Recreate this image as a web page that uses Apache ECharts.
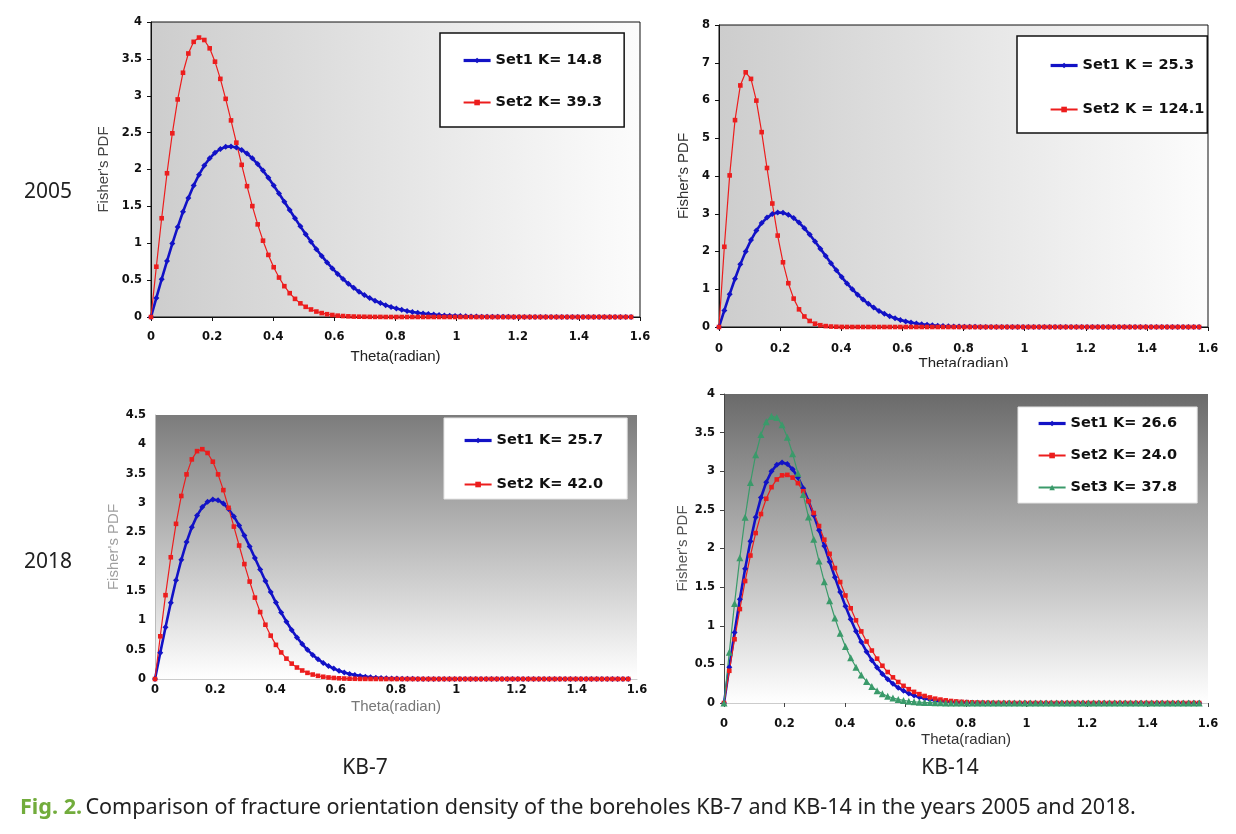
<!DOCTYPE html>
<html><head><meta charset="utf-8">
<script src="https://cdn.jsdelivr.net/npm/echarts@6/dist/echarts.min.js"></script>
<style>html,body{margin:0;padding:0;background:#fff}#c{width:1236px;height:834px}</style>
</head><body><div id="c"></div><script>
// theta in radians, 1-degree steps 0..90
const theta = [
0, 0.0175, 0.0349, 0.0524, 0.0698, 0.0873, 0.1047, 0.1222, 0.1396, 0.1571,
0.1745, 0.1920, 0.2094, 0.2269, 0.2443, 0.2618, 0.2793, 0.2967, 0.3142, 0.3316,
0.3491, 0.3665, 0.3840, 0.4014, 0.4189, 0.4363, 0.4538, 0.4712, 0.4887, 0.5061,
0.5236, 0.5411, 0.5585, 0.5760, 0.5934, 0.6109, 0.6283, 0.6458, 0.6632, 0.6807,
0.6981, 0.7156, 0.7330, 0.7505, 0.7679, 0.7854, 0.8029, 0.8203, 0.8378, 0.8552,
0.8727, 0.8901, 0.9076, 0.9250, 0.9425, 0.9599, 0.9774, 0.9948, 1.0123, 1.0297,
1.0472, 1.0647, 1.0821, 1.0996, 1.1170, 1.1345, 1.1519, 1.1694, 1.1868, 1.2043,
1.2217, 1.2392, 1.2566, 1.2741, 1.2915, 1.3090, 1.3265, 1.3439, 1.3614, 1.3788,
1.3963, 1.4137, 1.4312, 1.4486, 1.4661, 1.4835, 1.5010, 1.5184, 1.5359, 1.5533,
1.5708];

// 2005 KB-7
const kb7_2005_set1 = [ // K = 14.8
0, 0.258, 0.512, 0.759, 0.996, 1.219, 1.427, 1.615, 1.783, 1.930,
2.053, 2.152, 2.227, 2.278, 2.307, 2.313, 2.299, 2.266, 2.217, 2.151,
2.073, 1.985, 1.887, 1.783, 1.674, 1.563, 1.451, 1.339, 1.229, 1.122,
1.019, 0.920, 0.828, 0.740, 0.659, 0.584, 0.515, 0.452, 0.395, 0.344,
0.298, 0.257, 0.221, 0.189, 0.161, 0.137, 0.116, 0.098, 0.082, 0.069,
0.057, 0.048, 0.040, 0.033, 0.027, 0.022, 0.018, 0.015, 0.012, 0.010,
0.008, 0.006, 0.005, 0.004, 0.003, 0.003, 0.002, 0.002, 0.001, 0.001,
0.001, 0, 0, 0, 0, 0, 0, 0, 0, 0,
0, 0, 0, 0, 0, 0, 0, 0, 0, 0,
0];
const kb7_2005_set2 = [ // K = 39.3
0, 0.682, 1.339, 1.949, 2.491, 2.950, 3.312, 3.573, 3.731, 3.789,
3.756, 3.643, 3.462, 3.229, 2.958, 2.666, 2.364, 2.063, 1.774, 1.504,
1.256, 1.035, 0.842, 0.675, 0.535, 0.418, 0.323, 0.246, 0.185, 0.138,
0.102, 0.074, 0.053, 0.038, 0.027, 0.018, 0.013, 0.009, 0.006, 0.004,
0.003, 0.002, 0.001, 0.001, 0, 0, 0, 0, 0, 0,
0, 0, 0, 0, 0, 0, 0, 0, 0, 0,
0, 0, 0, 0, 0, 0, 0, 0, 0, 0,
0, 0, 0, 0, 0, 0, 0, 0, 0, 0,
0, 0, 0, 0, 0, 0, 0, 0, 0, 0,
0];
// 2005 KB-14
const kb14_2005_set1 = [ // K = 25.3
0, 0.440, 0.869, 1.279, 1.659, 2.003, 2.302, 2.553, 2.753, 2.898,
2.991, 3.033, 3.026, 2.976, 2.887, 2.765, 2.617, 2.449, 2.266, 2.076,
1.882, 1.689, 1.502, 1.323, 1.155, 0.999, 0.857, 0.729, 0.615, 0.514,
0.427, 0.351, 0.287, 0.233, 0.187, 0.149, 0.118, 0.093, 0.073, 0.057,
0.044, 0.034, 0.026, 0.019, 0.015, 0.011, 0.008, 0.006, 0.004, 0.003,
0.002, 0.002, 0.001, 0.001, 0, 0, 0, 0, 0, 0,
0, 0, 0, 0, 0, 0, 0, 0, 0, 0,
0, 0, 0, 0, 0, 0, 0, 0, 0, 0,
0, 0, 0, 0, 0, 0, 0, 0, 0, 0,
0];
const kb14_2005_set2 = [ // K = 124.1
0, 2.125, 4.016, 5.480, 6.399, 6.746, 6.573, 5.997, 5.162, 4.212,
3.271, 2.422, 1.714, 1.160, 0.752, 0.468, 0.279, 0.160, 0.088, 0.047,
0.024, 0.012, 0.006, 0.002, 0.001, 0, 0, 0, 0, 0,
0, 0, 0, 0, 0, 0, 0, 0, 0, 0,
0, 0, 0, 0, 0, 0, 0, 0, 0, 0,
0, 0, 0, 0, 0, 0, 0, 0, 0, 0,
0, 0, 0, 0, 0, 0, 0, 0, 0, 0,
0, 0, 0, 0, 0, 0, 0, 0, 0, 0,
0, 0, 0, 0, 0, 0, 0, 0, 0, 0,
0];
// 2018 KB-7
const kb7_2018_set1 = [ // K = 25.7
0, 0.447, 0.883, 1.299, 1.684, 2.031, 2.334, 2.586, 2.785, 2.930,
3.020, 3.058, 3.047, 2.992, 2.898, 2.771, 2.617, 2.444, 2.258, 2.063,
1.866, 1.671, 1.482, 1.302, 1.133, 0.977, 0.836, 0.709, 0.596, 0.497,
0.411, 0.337, 0.274, 0.221, 0.177, 0.141, 0.111, 0.087, 0.068, 0.053,
0.040, 0.031, 0.023, 0.018, 0.013, 0.010, 0.007, 0.005, 0.004, 0.003,
0.002, 0.001, 0.001, 0, 0, 0, 0, 0, 0, 0,
0, 0, 0, 0, 0, 0, 0, 0, 0, 0,
0, 0, 0, 0, 0, 0, 0, 0, 0, 0,
0, 0, 0, 0, 0, 0, 0, 0, 0, 0,
0];
const kb7_2018_set2 = [ // K = 42.0
0, 0.728, 1.429, 2.075, 2.645, 3.120, 3.488, 3.743, 3.884, 3.917,
3.853, 3.704, 3.488, 3.220, 2.918, 2.598, 2.275, 1.959, 1.661, 1.387,
1.141, 0.925, 0.739, 0.582, 0.453, 0.347, 0.262, 0.196, 0.145, 0.105,
0.076, 0.054, 0.038, 0.026, 0.018, 0.012, 0.008, 0.005, 0.004, 0.002,
0.002, 0.001, 0.001, 0, 0, 0, 0, 0, 0, 0,
0, 0, 0, 0, 0, 0, 0, 0, 0, 0,
0, 0, 0, 0, 0, 0, 0, 0, 0, 0,
0, 0, 0, 0, 0, 0, 0, 0, 0, 0,
0, 0, 0, 0, 0, 0, 0, 0, 0, 0,
0];
// 2018 KB-14
const kb14_2018_set1 = [ // K = 26.6
0, 0.462, 0.913, 1.342, 1.739, 2.095, 2.404, 2.659, 2.858, 2.999,
3.084, 3.113, 3.093, 3.026, 2.920, 2.781, 2.616, 2.432, 2.236, 2.033,
1.829, 1.629, 1.436, 1.254, 1.085, 0.930, 0.790, 0.665, 0.555, 0.459,
0.377, 0.307, 0.248, 0.198, 0.158, 0.124, 0.097, 0.076, 0.058, 0.045,
0.034, 0.026, 0.019, 0.014, 0.011, 0.008, 0.005, 0.004, 0.003, 0.002,
0.001, 0.001, 0, 0, 0, 0, 0, 0, 0, 0,
0, 0, 0, 0, 0, 0, 0, 0, 0, 0,
0, 0, 0, 0, 0, 0, 0, 0, 0, 0,
0, 0, 0, 0, 0, 0, 0, 0, 0, 0,
0];
const kb14_2018_set2 = [ // K = 24.0
0, 0.417, 0.825, 1.216, 1.579, 1.909, 2.200, 2.446, 2.644, 2.794,
2.894, 2.947, 2.953, 2.918, 2.846, 2.742, 2.611, 2.459, 2.291, 2.114,
1.931, 1.747, 1.566, 1.392, 1.226, 1.070, 0.927, 0.796, 0.679, 0.574,
0.482, 0.401, 0.332, 0.272, 0.222, 0.179, 0.144, 0.115, 0.091, 0.072,
0.056, 0.044, 0.034, 0.026, 0.020, 0.015, 0.011, 0.008, 0.006, 0.004,
0.003, 0.002, 0.002, 0.001, 0.001, 0, 0, 0, 0, 0,
0, 0, 0, 0, 0, 0, 0, 0, 0, 0,
0, 0, 0, 0, 0, 0, 0, 0, 0, 0,
0, 0, 0, 0, 0, 0, 0, 0, 0, 0,
0];
const kb14_2018_set3 = [ // K = 37.8
0, 0.656, 1.289, 1.879, 2.405, 2.853, 3.212, 3.476, 3.641, 3.713,
3.696, 3.601, 3.441, 3.227, 2.975, 2.698, 2.409, 2.119, 1.837, 1.569,
1.323, 1.100, 0.903, 0.732, 0.586, 0.463, 0.361, 0.279, 0.213, 0.160,
0.119, 0.088, 0.064, 0.046, 0.033, 0.023, 0.016, 0.011, 0.007, 0.005,
0.003, 0.002, 0.001, 0.001, 0, 0, 0, 0, 0, 0,
0, 0, 0, 0, 0, 0, 0, 0, 0, 0,
0, 0, 0, 0, 0, 0, 0, 0, 0, 0,
0, 0, 0, 0, 0, 0, 0, 0, 0, 0,
0, 0, 0, 0, 0, 0, 0, 0, 0, 0,
0];

const names2005kb7 = ['Set1 K= 14.8', 'Set2 K= 39.3'];
const names2005kb14 = ['Set1 K = 25.3', 'Set2 K = 124.1'];
const names2018kb7 = ['Set1 K= 25.7', 'Set2 K= 42.0'];
const names2018kb14 = ['Set1 K= 26.6', 'Set2 K= 24.0', 'Set3 K= 37.8'];
const yMax = [4, 8, 4.5, 4];
const yStep = [0.5, 1, 0.5, 0.5];

const BLUE = '#1212c6', RED = '#ec1d1d', GREEN = '#3a9a6a';
const FONT = 'Liberation Sans, Arial, sans-serif';
const BFONT = 'DejaVu Sans, sans-serif';

function pairs(v) { return theta.map((t, i) => [t, v[i]]); }
function ser(name, vals, g, kind) {
  const st = {
    blue: {symbol: 'diamond', size: 6, color: BLUE, w: 2.6},
    red: {symbol: 'rect', size: 4.6, color: RED, w: 1.2},
    green: {symbol: 'triangle', size: 7, color: GREEN, w: 1.2}
  }[kind];
  return {
    type: 'line', name: name, xAxisIndex: g, yAxisIndex: g, data: pairs(vals),
    symbol: st.symbol, symbolSize: st.size, showSymbol: true,
    lineStyle: {color: st.color, width: st.w},
    itemStyle: {color: st.color},
    animation: false, silent: true
  };
}

const grids = [
  {left: 151, top: 22, width: 489, height: 295},
  {left: 719, top: 25, width: 489, height: 302},
  {left: 155, top: 415, width: 482, height: 264},
  {left: 724, top: 394, width: 484, height: 309}
];
const hGrad = {type: 'linear', x: 0, y: 0, x2: 1, y2: 0, colorStops: [{offset: 0, color: '#cdcdcd'}, {offset: 1, color: '#fcfcfc'}]};
const vGrad3 = {type: 'linear', x: 0, y: 0, x2: 0, y2: 1, colorStops: [{offset: 0, color: '#7c7c7c'}, {offset: 1, color: '#ffffff'}]};
const vGrad4 = {type: 'linear', x: 0, y: 0, x2: 0, y2: 1, colorStops: [{offset: 0, color: '#6a6a6a'}, {offset: 1, color: '#ffffff'}]};
grids[0] = Object.assign(grids[0], {show: true, backgroundColor: hGrad, borderColor: '#111', borderWidth: 1});
grids[1] = Object.assign(grids[1], {show: true, backgroundColor: hGrad, borderColor: '#111', borderWidth: 1});
grids[2] = Object.assign(grids[2], {show: true, backgroundColor: vGrad3, borderWidth: 0});
grids[3] = Object.assign(grids[3], {show: true, backgroundColor: vGrad4, borderWidth: 0});

const xMargins = [14, 16, 5, 15];
const xNameGaps = [32, 25, 20, 29];
const yNameGaps = [40, 28, 32, 32];
const axisCol = ['#111', '#111', '#bbb', '#444'];
const xAxisCol = ['#111', '#111', '#ccc', '#ccc'];
const yNameCol = ['#444', '#333', '#a0a0a0', '#555'];
const xNameCol = ['#222', '#222', '#777', '#333'];

const xAxes = grids.map((g, i) => ({
  type: 'value', gridIndex: i, min: 0, max: 1.6, interval: 0.2,
  name: 'Theta(radian)', nameLocation: 'middle', nameGap: xNameGaps[i],
  nameTextStyle: {fontFamily: FONT, fontSize: 15, color: xNameCol[i]},
  axisLine: {lineStyle: {color: xAxisCol[i], width: 1}},
  axisTick: {show: i < 2 || i === 3, length: 4, lineStyle: {color: axisCol[i]}},
  axisLabel: {margin: xMargins[i], fontFamily: BFONT, fontWeight: 'bold', fontSize: 11.5, color: '#111'},
  splitLine: {show: false}
}));
const yAxes = grids.map((g, i) => ({
  type: 'value', gridIndex: i, min: 0, max: yMax[i], interval: yStep[i],
  name: "Fisher's PDF", nameLocation: 'middle', nameGap: yNameGaps[i], nameRotate: 90,
  nameTextStyle: {fontFamily: FONT, fontSize: 15, color: yNameCol[i]},
  axisLine: {show: true, lineStyle: {color: axisCol[i], width: 1}},
  axisTick: {show: i !== 2, length: 4, lineStyle: {color: axisCol[i]}},
  axisLabel: {margin: 9, fontFamily: BFONT, fontWeight: 'bold', fontSize: 11.5, color: '#111'},
  splitLine: {show: false}
}));

function legData(names) {
  return names.map((n, i) => i === 0 ? {name: n, lineStyle: {width: 3.2}} : {name: n});
}
const legTxt = {fontFamily: BFONT, fontWeight: 'bold', fontSize: 14.5, lineHeight: 17, color: '#111'};
const legBase = {orient: 'vertical', itemWidth: 27, itemHeight: 7, backgroundColor: '#fff', textStyle: legTxt};
const legends = [
  Object.assign({data: legData(names2005kb7), left: 440, top: 33, itemGap: 25,
   padding: [19, 22, 16, 22], borderColor: '#111', borderWidth: 1.5}, legBase),
  Object.assign({data: legData(names2005kb14), left: 1017, top: 36, itemGap: 27,
   padding: [21, 3, 15, 32], borderColor: '#111', borderWidth: 1.5}, legBase),
  Object.assign({data: legData(names2018kb7), left: 444, top: 418, itemGap: 27,
   padding: [14, 24, 6, 19], borderColor: '#e4e4e4', borderWidth: 1}, legBase),
  Object.assign({data: legData(names2018kb14), left: 1018, top: 407, itemGap: 15,
   padding: [8, 20, 7, 19], borderColor: '#e4e4e4', borderWidth: 1}, legBase)
];

const series = [
  ser(names2005kb7[0], kb7_2005_set1, 0, 'blue'),
  ser(names2005kb7[1], kb7_2005_set2, 0, 'red'),
  ser(names2005kb14[0], kb14_2005_set1, 1, 'blue'),
  ser(names2005kb14[1], kb14_2005_set2, 1, 'red'),
  ser(names2018kb7[0], kb7_2018_set1, 2, 'blue'),
  ser(names2018kb7[1], kb7_2018_set2, 2, 'red'),
  ser(names2018kb14[0], kb14_2018_set1, 3, 'blue'),
  ser(names2018kb14[1], kb14_2018_set2, 3, 'red'),
  ser(names2018kb14[2], kb14_2018_set3, 3, 'green')
];

const TXT = '"Noto Sans", "Open Sans", sans-serif';
const graphic = [
  {type: 'rect', shape: {x: 850, y: 367, width: 200, height: 16}, style: {fill: '#fff'}, z: 100},
  {type: 'text', x: 48, y: 192, style: {text: '2005', font: '21px ' + TXT, fill: '#222', align: 'center', verticalAlign: 'middle'}, z: 100},
  {type: 'text', x: 48, y: 562, style: {text: '2018', font: '21px ' + TXT, fill: '#222', align: 'center', verticalAlign: 'middle'}, z: 100},
  {type: 'text', x: 365, y: 768, style: {text: 'KB-7', font: '21px ' + TXT, fill: '#222', align: 'center', verticalAlign: 'middle'}, z: 100},
  {type: 'text', x: 950, y: 768, style: {text: 'KB-14', font: '21px ' + TXT, fill: '#222', align: 'center', verticalAlign: 'middle'}, z: 100},
  {type: 'text', x: 20, y: 808, z: 100, style: {
    text: '{a|Fig. 2.} {b|Comparison of fracture orientation density of the boreholes KB-7 and KB-14 in the years 2005 and 2018.}',
    verticalAlign: 'middle', align: 'left',
    rich: {
      a: {fontFamily: TXT, fontSize: 21.6, fontWeight: 'bold', fill: '#72ac3c', color: '#72ac3c'},
      b: {fontFamily: TXT, fontSize: 21.6, fill: '#222', color: '#222'}
    }
  }}
];

const chart = echarts.init(document.getElementById('c'), null, {renderer: 'canvas'});
chart.setOption({
  backgroundColor: '#fff', animation: false,
  grid: grids, xAxis: xAxes, yAxis: yAxes, legend: legends, series: series, graphic: graphic
});
</script></body></html>
